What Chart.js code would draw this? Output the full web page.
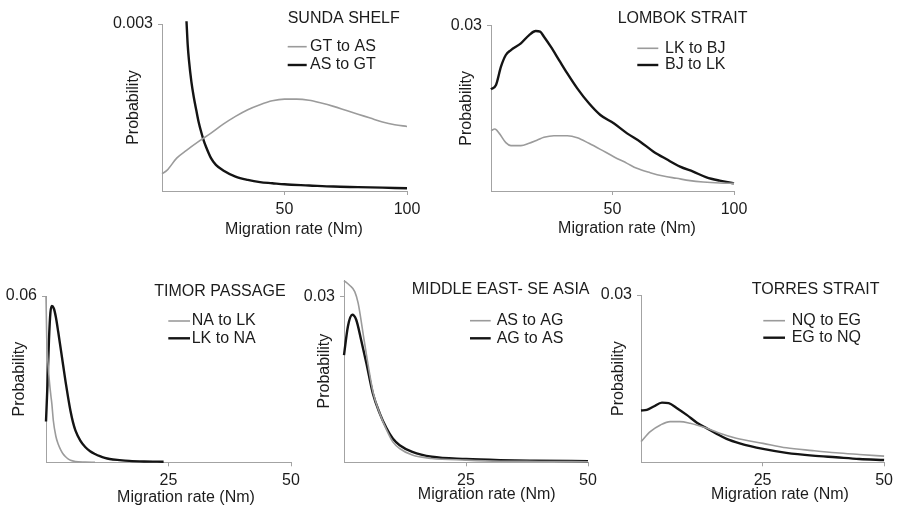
<!DOCTYPE html>
<html><head><meta charset="utf-8">
<script src="https://cdn.jsdelivr.net/npm/chart.js@4.4.1/dist/chart.umd.min.js"></script>
<style>
html,body{margin:0;padding:0;background:#fff;width:898px;height:507px;overflow:hidden;}
canvas{position:absolute;left:0;top:0;}
</style></head><body>
<canvas id="c1" width="898" height="507"></canvas>
<canvas id="c2" width="898" height="507"></canvas>
<canvas id="c3" width="898" height="507"></canvas>
<canvas id="c4" width="898" height="507"></canvas>
<canvas id="c5" width="898" height="507"></canvas>
<script>
// ---------- DATA ----------
// Sunda Shelf
const sundaGTtoAS_x = [0, 2, 6, 10, 15, 20, 25, 30, 35, 40, 45, 50, 55, 60, 65, 70, 75, 80, 85, 90, 95, 100];
const sundaGTtoAS_y = [0.00031, 0.00037, 0.00059, 0.00073, 0.00089, 0.00104, 0.0012, 0.00134, 0.00146, 0.00155, 0.00162, 0.00165, 0.00165, 0.00163, 0.00158, 0.00152, 0.00145, 0.00138, 0.00131, 0.00124, 0.00119, 0.00116];
const sundaAStoGT_x = [10, 10.5, 11, 12, 13, 14, 15, 16, 17, 18, 20, 22, 25, 30, 35, 40, 45, 50, 60, 70, 80, 90, 100];
const sundaAStoGT_y = [0.00305, 0.00262, 0.00235, 0.00196, 0.00168, 0.00145, 0.00123, 0.00106, 0.00091, 0.00079, 0.00059, 0.00047, 0.00037, 0.00026, 0.0002, 0.00016, 0.00014, 0.00012, 0.0001, 0.00008, 0.00007, 0.00006, 0.00005];
// Lombok Strait
const lombokLKtoBJ_x = [0, 1.6, 3.4, 6.1, 8.2, 12.3, 15.7, 19.1, 21.8, 25.9, 31.4, 35.5, 40.3, 45, 50.5, 56, 60, 65.5, 70.9, 76.4, 81.9, 87.3, 94.1, 100];
const lombokLKtoBJ_y = [0.01095, 0.01125, 0.01046, 0.00877, 0.00823, 0.00823, 0.00865, 0.00925, 0.00974, 0.01004, 0.01004, 0.00968, 0.00865, 0.00756, 0.00623, 0.00502, 0.00411, 0.00333, 0.00272, 0.0023, 0.00188, 0.00163, 0.00145, 0.00139];
const lombokBJtoLK_x = [0, 2.05, 4.1, 6.1, 8.2, 12.3, 15.7, 18.4, 20.2, 21.8, 24.6, 28, 31.4, 35.5, 40.3, 45, 50.5, 56, 61.4, 66.9, 72.3, 77.8, 83.2, 88.7, 94.1, 100];
const lombokBJtoLK_y = [0.01845, 0.01923, 0.02256, 0.02468, 0.02558, 0.0268, 0.0283, 0.02903, 0.02891, 0.028, 0.02619, 0.02377, 0.02135, 0.01863, 0.01591, 0.01379, 0.01228, 0.01046, 0.00895, 0.00714, 0.00575, 0.00442, 0.00351, 0.00248, 0.00188, 0.00139];
// Timor Passage
const timorNAtoLK_x = [0, 0.15, 0.4, 0.7, 1.0, 1.2, 1.5, 2, 2.5, 3, 3.5, 4, 4.5, 5, 6, 8, 10];
const timorNAtoLK_y = [0.06, 0.045, 0.036, 0.029, 0.024, 0.021, 0.015, 0.0095, 0.0065, 0.0045, 0.003, 0.002, 0.0012, 0.0007, 0.0003, 0.0001, 0];
const timorLKtoNA_x = [0, 0.3, 0.6, 0.9, 1.2, 1.6, 2, 2.5, 3, 3.5, 4, 4.5, 5, 5.5, 6, 7, 8, 9, 10, 11, 12, 13, 15, 17, 20, 24];
const timorLKtoNA_y = [0.0147, 0.028, 0.044, 0.054, 0.0564, 0.0555, 0.0525, 0.047, 0.041, 0.035, 0.029, 0.0235, 0.0185, 0.0145, 0.0115, 0.0078, 0.0055, 0.004, 0.003, 0.0022, 0.0016, 0.0012, 0.0008, 0.0005, 0.0003, 0.0002];
// Middle East - SE Asia
const meASAG_x = [0, 1.2, 2.2, 2.9, 4, 5, 6, 7.3, 8.7, 10, 11.4, 14, 18, 25, 32, 40, 50];
const meASAG_y = [0.0329, 0.032, 0.0309, 0.0288, 0.0228, 0.0173, 0.0125, 0.0089, 0.0059, 0.0037, 0.0025, 0.0013, 0.0007, 0.0004, 0.0002, 0.00015, 0.0001];
const meAGAS_x = [0, 0.8, 1.7, 2.5, 3.5, 4.6, 5.9, 7.3, 8.7, 10, 11.4, 14, 18, 25, 32, 39, 50];
const meAGAS_y = [0.0194, 0.0246, 0.0267, 0.0258, 0.0222, 0.0179, 0.0125, 0.0089, 0.0062, 0.0043, 0.0031, 0.0019, 0.001, 0.0006, 0.0004, 0.0003, 0.0002];
// Torres Strait
const torresNQEG_x = [0, 1.9, 4, 6, 8, 10.1, 12.1, 14.2, 16.2, 19.6, 25.1, 29.9, 35.3, 40.1, 44.9, 50];
const torresNQEG_y = [0.0037, 0.0055, 0.0067, 0.0073, 0.0073, 0.007, 0.0065, 0.0059, 0.0052, 0.0043, 0.0034, 0.0026, 0.0021, 0.0017, 0.0014, 0.0011];
const torresEGNQ_x = [0, 1.2, 2.6, 4.3, 5.7, 7.4, 9.4, 11.5, 13.5, 15.6, 17.6, 20.3, 25.1, 29.9, 35.3, 40.1, 44.9, 50];
const torresEGNQ_y = [0.0093, 0.0094, 0.01, 0.0107, 0.0106, 0.0097, 0.0085, 0.0071, 0.0061, 0.0051, 0.0042, 0.0034, 0.0024, 0.0017, 0.0012, 0.0009, 0.0006, 0.0004];

const xTicks100 = [50, 100];
const xTicks50 = [25, 50];

// ---------- STYLE ----------
const GRAY = '#9b9b9b', BLACK = '#141414', AXIS = '#a3a3a3', TEXT = '#1c1c1c';
const FAM = "'Liberation Sans', Arial, sans-serif";
const FONT = {family: FAM, size: 16};
const LH = 19.2;

const panelText = {
  id: 'panelText',
  afterDraw(chart, args, o) {
    const ctx = chart.ctx;
    ctx.save();
    ctx.font = '16px ' + FAM;
    ctx.fillStyle = TEXT;
    ctx.textBaseline = 'middle';
    ctx.textAlign = 'left';
    ctx.fillText(o.title, o.titleX, o.titleY);
    chart.data.datasets.forEach((ds, i) => {
      const y = o.rowY[i];
      ctx.strokeStyle = ds.borderColor;
      ctx.lineWidth = ds.borderWidth;
      ctx.beginPath(); ctx.moveTo(o.lineX1, y); ctx.lineTo(o.lineX2, y); ctx.stroke();
      ctx.fillText(ds.label, o.textX, y);
    });
    // x-axis title
    ctx.textAlign = 'center';
    ctx.fillText(o.xTitle, o.xTitleX, o.xTitleY);
    ctx.restore();
  }
};

function pts(xs, ys) { return xs.map((x, i) => ({x: x, y: ys[i]})); }

function panel(id, cfg) {
  const titlePad = Math.min(20, cfg.yTitleX - LH / 2 - 1);
  const padLeft = cfg.yTitleX - LH / 2 - titlePad;
  const xBottom = cfg.area.B + 32;
  cfg.text.xTitle = 'Migration rate (Nm)';
  new Chart(document.getElementById(id), {
    type: 'line',
    data: {
      datasets: cfg.series.map(s => ({
        label: s.label, data: pts(s.x, s.y), borderColor: s.color, borderWidth: s.width,
        pointRadius: 0, cubicInterpolationMode: 'monotone', fill: false, clip: false
      }))
    },
    options: {
      responsive: false, animation: false, events: [],
      layout: {padding: {left: padLeft, top: cfg.area.T, right: 898 - cfg.area.R, bottom: 507 - xBottom}},
      plugins: {legend: {display: false}, tooltip: {enabled: false}, panelText: cfg.text},
      scales: {
        x: {
          type: 'linear', min: 0, max: cfg.xMax,
          afterBuildTicks: sc => { sc.ticks = cfg.xTicks.map(v => ({value: v})); },
          afterFit: sc => { sc.height = xBottom - cfg.area.B; },
          ticks: {color: TEXT, font: FONT, padding: 5, maxRotation: 0, autoSkip: false, callback: v => String(v)},
          grid: {drawOnChartArea: false, drawTicks: true, tickLength: 4, color: AXIS},
          border: {display: true, color: AXIS, width: 1},
          title: {display: false}
        },
        y: {
          type: 'linear', min: 0, max: cfg.yMax,
          afterBuildTicks: sc => { sc.ticks = [{value: cfg.yTick}]; },
          afterFit: sc => { sc.width = cfg.area.L - padLeft; },
          ticks: {color: TEXT, font: FONT, padding: 5, autoSkip: false, callback: v => String(v)},
          grid: {drawOnChartArea: false, drawTicks: true, tickLength: 4, color: AXIS},
          border: {display: true, color: AXIS, width: 1},
          title: {display: true, text: 'Probability', font: FONT, color: TEXT, padding: {top: titlePad, bottom: 0}}
        }
      }
    },
    plugins: [panelText]
  });
}

panel('c1', {
  area: {L: 162, R: 407, T: 24, B: 191}, yTitleX: 133.3,
  xMax: 100, xTicks: xTicks100, yMax: 0.003, yTick: 0.003,
  series: [
    {label: 'GT to AS', x: sundaGTtoAS_x, y: sundaGTtoAS_y, color: GRAY, width: 1.6},
    {label: 'AS to GT', x: sundaAStoGT_x, y: sundaAStoGT_y, color: BLACK, width: 2.4}
  ],
  text: {title: 'SUNDA SHELF', titleX: 287.7, titleY: 18.5, lineX1: 287.7, lineX2: 306.7, textX: 310, rowY: [46.7, 65], xTitleX: 294, xTitleY: 230}
});
panel('c2', {
  area: {L: 491, R: 734, T: 25.7, B: 191}, yTitleX: 466.7,
  xMax: 100, xTicks: xTicks100, yMax: 0.03, yTick: 0.03,
  series: [
    {label: 'LK to BJ', x: lombokLKtoBJ_x, y: lombokLKtoBJ_y, color: GRAY, width: 1.6},
    {label: 'BJ to LK', x: lombokBJtoLK_x, y: lombokBJtoLK_y, color: BLACK, width: 2.4}
  ],
  text: {title: 'LOMBOK STRAIT', titleX: 617.7, titleY: 18.5, lineX1: 637.3, lineX2: 658.3, textX: 665, rowY: [48.3, 65], xTitleX: 627, xTitleY: 228.3}
});
panel('c3', {
  area: {L: 46, R: 291, T: 296, B: 462.3}, yTitleX: 20,
  xMax: 50, xTicks: xTicks50, yMax: 0.06, yTick: 0.06,
  series: [
    {label: 'NA to LK', x: timorNAtoLK_x, y: timorNAtoLK_y, color: GRAY, width: 1.6},
    {label: 'LK to NA', x: timorLKtoNA_x, y: timorLKtoNA_y, color: BLACK, width: 2.4}
  ],
  text: {title: 'TIMOR PASSAGE', titleX: 154.3, titleY: 291.7, lineX1: 168.3, lineX2: 190, textX: 191.7, rowY: [321, 338.3], xTitleX: 186, xTitleY: 497.3}
});
panel('c4', {
  area: {L: 344, R: 588, T: 280, B: 462.3}, yTitleX: 324.3,
  xMax: 50, xTicks: xTicks50, yMax: 0.033, yTick: 0.03,
  series: [
    {label: 'AS to AG', x: meASAG_x, y: meASAG_y, color: GRAY, width: 1.6},
    {label: 'AG to AS', x: meAGAS_x, y: meAGAS_y, color: BLACK, width: 2.4}
  ],
  text: {title: 'MIDDLE EAST- SE ASIA', titleX: 411.7, titleY: 289.3, lineX1: 470, lineX2: 490.7, textX: 496.7, rowY: [320.7, 338.3], xTitleX: 486.7, xTitleY: 495}
});
panel('c5', {
  area: {L: 641, R: 885, T: 295, B: 462.3}, yTitleX: 619,
  xMax: 50, xTicks: xTicks50, yMax: 0.03, yTick: 0.03,
  series: [
    {label: 'NQ to EG', x: torresNQEG_x, y: torresNQEG_y, color: GRAY, width: 1.6},
    {label: 'EG to NQ', x: torresEGNQ_x, y: torresEGNQ_y, color: BLACK, width: 2.4}
  ],
  text: {title: 'TORRES STRAIT', titleX: 751.7, titleY: 290, lineX1: 763.3, lineX2: 785, textX: 791.7, rowY: [320.7, 337.7], xTitleX: 780, xTitleY: 495}
});
</script>
</body></html>
